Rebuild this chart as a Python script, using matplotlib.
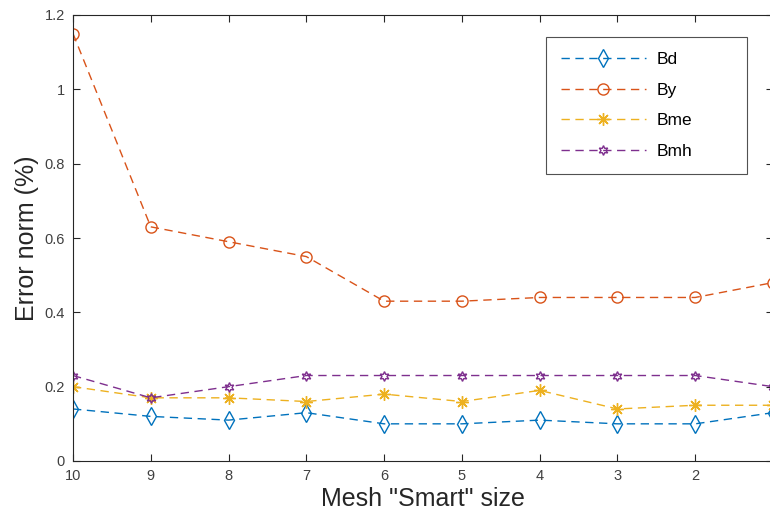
import matplotlib.pyplot as plt

plt.rcParams['font.family'] = ['Liberation Sans', 'DejaVu Sans']

mesh_size = [10, 9, 8, 7, 6, 5, 4, 3, 2, 1]
bd = [0.14, 0.12, 0.11, 0.13, 0.10, 0.10, 0.11, 0.10, 0.10, 0.13]
by = [1.15, 0.63, 0.59, 0.55, 0.43, 0.43, 0.44, 0.44, 0.44, 0.48]
bme = [0.20, 0.17, 0.17, 0.16, 0.18, 0.16, 0.19, 0.14, 0.15, 0.15]
bmh = [0.23, 0.17, 0.20, 0.23, 0.23, 0.23, 0.23, 0.23, 0.23, 0.20]
x_ticks = [10, 9, 8, 7, 6, 5, 4, 3, 2, 1]
y_ticks = [0, 0.2, 0.4, 0.6, 0.8, 1.0, 1.2]
y_tick_labels = ['0', '0.2', '0.4', '0.6', '0.8', '1', '1.2']

fig = plt.figure(figsize=(7.7, 5.19), dpi=100)
# axes run slightly past the right edge of the figure
ax = fig.add_axes([73 / 770, 58 / 519, 700 / 770, 446 / 519])

dash = (0, (6, 4))
ax.plot(mesh_size, bd, ls=dash, color='#0072BD', marker='d', mfc='none', ms=9, lw=1, label='Bd')
ax.plot(mesh_size, by, ls=dash, color='#D95319', marker='o', mfc='none', ms=8, lw=1, label='By')
ax.plot(mesh_size, bme, ls=dash, color='#EDB120', marker=(8, 2, 0), ms=9, lw=1, label='Bme')
ax.plot(mesh_size, bmh, ls=dash, color='#7E2F8E', marker=(6, 1, 0), mfc='none', ms=7, lw=1, label='Bmh')

ax.set_xlim(10, 1)
ax.set_ylim(0, 1.2)
ax.set_xticks(x_ticks)
ax.set_yticks(y_ticks)
ax.set_yticklabels(y_tick_labels)
ax.tick_params(direction='in', top=True, right=True, length=5, labelsize=10.5,
               colors='#262626', labelcolor='#404040', pad=6)
for s in ax.spines.values():
    s.set_color('#262626')
    s.set_linewidth(0.8)

ax.set_xlabel('Mesh "Smart" size', fontsize=18, color='#262626', labelpad=3)
ax.set_ylabel('Error norm (%)', fontsize=18, color='#262626', labelpad=4)

leg = ax.legend(loc='upper left', bbox_to_anchor=(473 / 700, 1 - 22 / 446 - 131 / 446, 201 / 700, 131 / 446),
                mode='expand', fontsize=12.5, fancybox=False, edgecolor='#262626',
                handlelength=4.9, handletextpad=0.6, borderpad=0.85, labelspacing=0.9,
                borderaxespad=0)
leg.get_frame().set_linewidth(0.8)

fig.savefig('out.png', dpi=100)
